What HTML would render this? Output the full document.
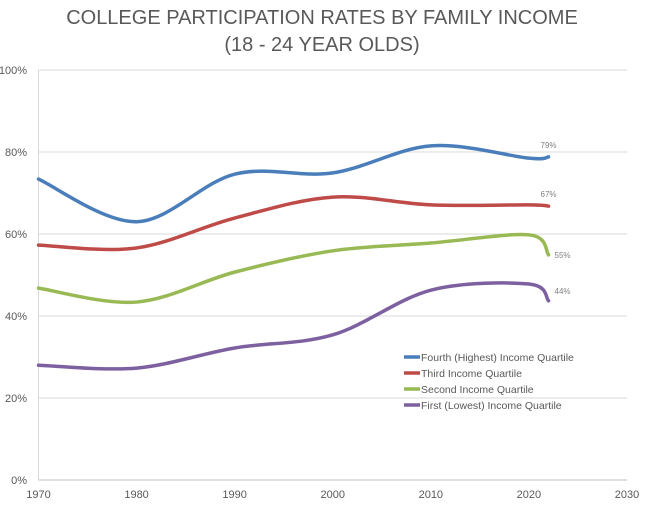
<!DOCTYPE html>
<html><head><meta charset="utf-8"><style>
body{margin:0;background:#fff;}
svg{display:block;font-family:"Liberation Sans",sans-serif;}
</style></head><body>
<svg width="647" height="513">
<text x="322" y="24" text-anchor="middle" font-size="20" fill="#595959">COLLEGE PARTICIPATION RATES BY FAMILY INCOME</text>
<text x="322" y="51" text-anchor="middle" font-size="20" fill="#595959">(18 - 24 YEAR OLDS)</text>
<g id="grid"></g><g id="axes"></g><g id="series"></g><g id="legend"></g>
</svg>
<script>
const years=[1970,1980,1990,2000,2010,2020,2022];
const fourth=[73.4,63,74.6,74.9,81.5,78.5,78.8];
const third=[57.3,56.6,63.9,69,67.1,67.1,66.8];
const second=[46.8,43.4,50.7,55.9,57.8,59.8,54.9];
const first=[28,27.3,32.2,35.4,46.3,47.8,43.7];
const yTicks=[0,20,40,60,80,100];
const xTicks=[1970,1980,1990,2000,2010,2020,2030];
const names=["Fourth (Highest) Income Quartile","Third Income Quartile","Second Income Quartile","First (Lowest) Income Quartile"];
const endLabels=["79%","67%","55%","44%"];
const colors=["#4a7ebb","#be4b48","#98b954","#7d60a0"];
const NS="http://www.w3.org/2000/svg";
const X=v=>38.5+(v-1970)*(627-38.5)/60;
const Y=v=>480-v*4.1;
function mk(t,a,p){const e=document.createElementNS(NS,t);for(const k in a)e.setAttribute(k,a[k]);p.appendChild(e);return e;}
const grid=document.getElementById('grid'),axes=document.getElementById('axes'),ser=document.getElementById('series'),leg=document.getElementById('legend');
yTicks.forEach(t=>{
 const l=mk('line',{x1:38.5,x2:627,y1:Y(t),y2:Y(t),stroke:t===0?'#bfbfbf':'#d9d9d9'},grid);
 
 
 const tx=mk('text',{x:27,y:Y(t)+4,'text-anchor':'end','font-size':11,fill:'#595959'},axes);tx.textContent=t+'%';
 
 
});
const ya=mk('line',{x1:38.5,x2:38.5,y1:Y(100),y2:Y(0),stroke:'#d9d9d9'},axes);


xTicks.forEach(t=>{
 const tx=mk('text',{x:X(t),y:498,'text-anchor':'middle','font-size':11,fill:'#595959'},axes);tx.textContent=t;
 
 
});
function path(vals){
 const p=years.map((y,i)=>[X(y),Y(vals[i])]);
 let d='M'+p[0][0]+','+p[0][1];
 for(let i=0;i<p.length-1;i++){
  const p0=p[Math.max(0,i-1)],p1=p[i],p2=p[i+1],p3=p[Math.min(p.length-1,i+2)];
  const c1=[p1[0]+(p2[0]-p0[0])/6,p1[1]+(p2[1]-p0[1])/6];
  const c2=[p2[0]-(p3[0]-p1[0])/6,p2[1]-(p3[1]-p1[1])/6];
  d+=`C${c1[0]},${c1[1]} ${c2[0]},${c2[1]} ${p2[0]},${p2[1]}`;
 }
 return d;
}
[fourth,third,second,first].forEach((vals,s)=>{
 const pa=mk('path',{d:path(vals),fill:'none',stroke:colors[s],'stroke-width':3.5,'stroke-linecap':'round'},ser);
 
 
 const last=vals.length-1;
 const lx=X(years[last])+(s>=2?6:-8), ly=Y(vals[last])+(s>=2?(s===2?0:-10):-12);
 const lt=mk('text',{x:lx,y:ly+3,'font-size':8,fill:'#808080'},ser);lt.textContent=endLabels[s];
 
 
 const ly2=357+s*16;
 const ll=mk('line',{x1:404,x2:420,y1:ly2,y2:ly2,stroke:colors[s],'stroke-width':3.5},leg);
 
 
 const tt=mk('text',{x:421,y:ly2+4,'font-size':10.5,fill:'#595959'},leg);tt.textContent=names[s];
 
 
});
</script>
</body></html>
